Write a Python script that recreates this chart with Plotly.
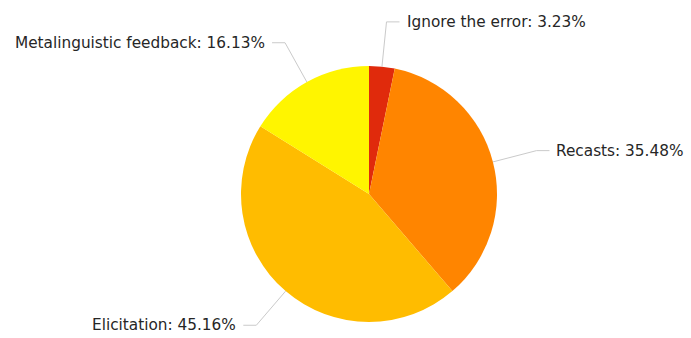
import math
import plotly.graph_objects as go

# Corrective feedback types and how often each was used
categories = ["Ignore the error", "Recasts", "Elicitation", "Metalinguistic feedback"]
counts = [1, 11, 14, 5]
colors = ["#E02A0C", "#FF8500", "#FFBC00", "#FFF500"]

W, H = 691, 338
cx, cy, r = 369, 194, 128          # pie centre and radius in px
label_r = 173                      # radius where leader lines bend
tail = 13                          # horizontal leg of each leader line
gap = 5                            # space between line end and label text

total = sum(counts)
shares = [c / total for c in counts]

fig = go.Figure(go.Pie(
    labels=categories,
    values=counts,
    sort=False,
    direction="clockwise",
    rotation=0,
    marker=dict(colors=colors, line=dict(width=0)),
    textinfo="none",
    hoverinfo="label+percent",
    domain=dict(x=[(cx - r) / W, (cx + r) / W],
                y=[1 - (cy + r) / H, 1 - (cy - r) / H]),
    showlegend=False,
))

def px(x, y):
    return x / W, 1 - y / H

shapes, annotations = [], []
cum = 0.0
for name, share in zip(categories, shares):
    mid = 2 * math.pi * (cum + share / 2)
    cum += share
    sx, sy = cx + r * math.sin(mid), cy - r * math.cos(mid)
    ex, ey = cx + label_r * math.sin(mid), cy - label_r * math.cos(mid)
    right = math.sin(mid) >= 0
    tx = ex + (tail if right else -tail)
    path = "M {} {} L {} {} L {} {}".format(*px(sx, sy), *px(ex, ey), *px(tx, ey))
    shapes.append(dict(type="path", xref="paper", yref="paper", path=path,
                       line=dict(color="#CACACA", width=1)))
    ax, ay = px(tx + (gap if right else -gap), ey)
    annotations.append(dict(
        x=ax, y=ay, xref="paper", yref="paper", showarrow=False,
        xanchor="left" if right else "right", yanchor="middle",
        text=f"{name}: {share * 100:.2f}%",
        font=dict(family="DejaVu Sans", size=15.3, color="#262626"),
    ))

fig.update_layout(
    width=W, height=H,
    margin=dict(l=0, r=0, t=0, b=0),
    paper_bgcolor="white", plot_bgcolor="white",
    shapes=shapes, annotations=annotations,
)

fig.write_html("out.html")
